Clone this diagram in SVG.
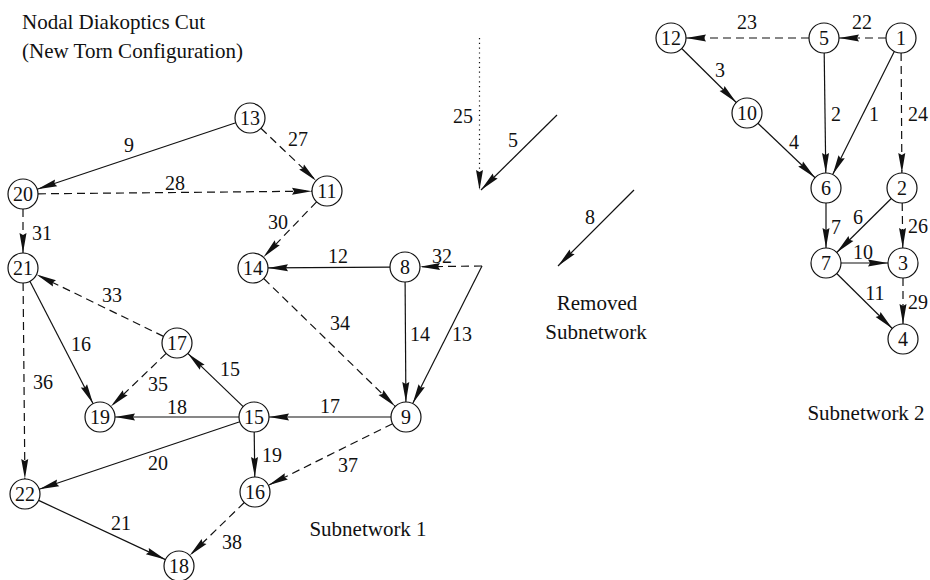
<svg xmlns="http://www.w3.org/2000/svg" width="930" height="580" viewBox="0 0 930 580">
  <style>
    text { font-family: "Liberation Serif", "Times New Roman", serif; font-size: 20px; fill: #111; }
    .word { font-size: 21px; }
    .node circle { fill: #fff; stroke: #111; stroke-width: 1.2; }
    .node text { font-size: 20px; text-anchor: middle; dominant-baseline: central; }
    .lbl { text-anchor: middle; }
    .edge { fill: none; stroke: #111; stroke-width: 1.2; marker-end: url(#arrow); }
    .dash { stroke-dasharray: 8 5; }
    .dot { stroke-dasharray: 1.2 3.6; }
  </style>
  <defs>
    <marker id="arrow" markerUnits="userSpaceOnUse" markerWidth="22" markerHeight="10" refX="20" refY="3.5" orient="auto" overflow="visible">
      <path d="M0,0 L20,3.5 L0,7 L2,3.5 z" fill="#111"/>
    </marker>
  </defs>

  <!-- titles -->
  <text class="word" x="22" y="29">Nodal Diakoptics Cut</text>
  <text class="word" x="22" y="58">(New Torn Configuration)</text>
  <text class="word lbl" x="597" y="310">Removed</text>
  <text class="word lbl" x="596" y="339">Subnetwork</text>
  <text class="word lbl" x="368" y="536">Subnetwork 1</text>
  <text class="word lbl" x="866" y="420">Subnetwork 2</text>

  <!-- connectors -->
  <g id="connectors">
    <line class="edge" x1="235.8" y1="122.8" x2="37.2" y2="189.2"/>
    <line class="edge dash" x1="260.9" y1="128.3" x2="316.1" y2="180.7"/>
    <line class="edge dash" x1="38" y1="193.85" x2="312" y2="191.15"/>
    <line class="edge dash" x1="23" y1="209" x2="23" y2="253"/>
    <line class="edge dash" x1="316.6" y1="201.8" x2="263.4" y2="257.2"/>
    <line class="edge" x1="390" y1="267.1" x2="268" y2="267.9"/>
    <line class="edge dash" x1="163.5" y1="336.4" x2="36.5" y2="274.6"/>
    <line class="edge" x1="29.9" y1="281.3" x2="93.1" y2="403.7"/>
    <line class="edge dash" x1="23.1" y1="283" x2="24.9" y2="479"/>
    <line class="edge dash" x1="166.2" y1="353.4" x2="110.8" y2="406.6"/>
    <line class="edge" x1="243.2" y1="406.6" x2="187.8" y2="353.4"/>
    <line class="edge dash" x1="263.7" y1="278.5" x2="395.3" y2="406.5"/>
    <line class="edge" x1="405.1" y1="282" x2="405.9" y2="402"/>
    <line class="edge" x1="482" y1="266" x2="412.7" y2="403.6"/>
    <line class="edge dash" x1="482" y1="266" x2="420" y2="266.8"/>
    <line class="edge" x1="391" y1="417" x2="269" y2="417"/>
    <line class="edge" x1="239" y1="417" x2="115" y2="417"/>
    <line class="edge" x1="239.8" y1="421.8" x2="39.2" y2="489.2"/>
    <line class="edge" x1="254.2" y1="432" x2="254.8" y2="477"/>
    <line class="edge dash" x1="392.6" y1="423.7" x2="268.4" y2="485.3"/>
    <line class="edge" x1="38.6" y1="500.4" x2="165.4" y2="559.6"/>
    <line class="edge dash" x1="244.3" y1="502.5" x2="189.7" y2="555.5"/>

    <line class="edge dot" x1="479.5" y1="38" x2="479.5" y2="190"/>
    <line class="edge" x1="557" y1="115" x2="481" y2="190"/>
    <line class="edge" x1="634" y1="190" x2="558" y2="266"/>

    <line class="edge dash" x1="809" y1="38" x2="686" y2="38"/>
    <line class="edge dash" x1="886" y1="38" x2="839" y2="38"/>
    <line class="edge" x1="681.7" y1="48.5" x2="736.3" y2="102.5"/>
    <line class="edge" x1="824.2" y1="53" x2="825.8" y2="173"/>
    <line class="edge" x1="894.3" y1="51.4" x2="832.7" y2="174.6"/>
    <line class="edge dash" x1="901.1" y1="53" x2="901.9" y2="173"/>
    <line class="edge" x1="757.9" y1="123.3" x2="815.1" y2="177.7"/>
    <line class="edge" x1="826" y1="203" x2="826" y2="248"/>
    <line class="edge" x1="891.3" y1="198.5" x2="836.7" y2="252.5"/>
    <line class="edge dash" x1="902.2" y1="203" x2="902.8" y2="248"/>
    <line class="edge" x1="841" y1="263" x2="888" y2="263"/>
    <line class="edge" x1="836.7" y1="273.5" x2="892.3" y2="328.5"/>
    <line class="edge dash" x1="903" y1="278" x2="903" y2="324"/>
  </g>

  <!-- connector labels -->
  <g id="edge-labels">
    <text class="lbl" x="129" y="152">9</text>
    <text class="lbl" x="175" y="190">28</text>
    <text class="lbl" x="298" y="146">27</text>
    <text class="lbl" x="42" y="240">31</text>
    <text class="lbl" x="278" y="229">30</text>
    <text class="lbl" x="112" y="302">33</text>
    <text class="lbl" x="81" y="351">16</text>
    <text class="lbl" x="230" y="376">15</text>
    <text class="lbl" x="43" y="389">36</text>
    <text class="lbl" x="158" y="391">35</text>
    <text class="lbl" x="177" y="414">18</text>
    <text class="lbl" x="330" y="413">17</text>
    <text class="lbl" x="272" y="462">19</text>
    <text class="lbl" x="158" y="470">20</text>
    <text class="lbl" x="348" y="472">37</text>
    <text class="lbl" x="121" y="530">21</text>
    <text class="lbl" x="232" y="549">38</text>
    <text class="lbl" x="338" y="263">12</text>
    <text class="lbl" x="442" y="263">32</text>
    <text class="lbl" x="340" y="330">34</text>
    <text class="lbl" x="420" y="341">14</text>
    <text class="lbl" x="462" y="341">13</text>
    <text class="lbl" x="463" y="123">25</text>
    <text class="lbl" x="513" y="147">5</text>
    <text class="lbl" x="590" y="224">8</text>
    <text class="lbl" x="747" y="29">23</text>
    <text class="lbl" x="862" y="29">22</text>
    <text class="lbl" x="720" y="77">3</text>
    <text class="lbl" x="836" y="121">2</text>
    <text class="lbl" x="874" y="121">1</text>
    <text class="lbl" x="918" y="121">24</text>
    <text class="lbl" x="858" y="224">6</text>
    <text class="lbl" x="836" y="234">7</text>
    <text class="lbl" x="794" y="149">4</text>
    <text class="lbl" x="918" y="233">26</text>
    <text class="lbl" x="863" y="259">10</text>
    <text class="lbl" x="875" y="300">11</text>
    <text class="lbl" x="918" y="309">29</text>
  </g>

  <!-- subnetwork 1 nodes -->
  <g id="n13" class="node"><circle cx="250" cy="118" r="15"/><text x="250" y="118">13</text></g>
  <g id="n20" class="node"><circle cx="23" cy="194" r="15"/><text x="23" y="194">20</text></g>
  <g id="n11" class="node"><circle cx="327" cy="191" r="15"/><text x="327" y="191">11</text></g>
  <g id="n21" class="node"><circle cx="23" cy="268" r="15"/><text x="23" y="268">21</text></g>
  <g id="n14" class="node"><circle cx="253" cy="268" r="15"/><text x="253" y="268">14</text></g>
  <g id="n8" class="node"><circle cx="405" cy="267" r="15"/><text x="405" y="267">8</text></g>
  <g id="n17" class="node"><circle cx="177" cy="343" r="15"/><text x="177" y="343">17</text></g>
  <g id="n19" class="node"><circle cx="100" cy="417" r="15"/><text x="100" y="417">19</text></g>
  <g id="n15" class="node"><circle cx="254" cy="417" r="15"/><text x="254" y="417">15</text></g>
  <g id="n9" class="node"><circle cx="406" cy="417" r="15"/><text x="406" y="417">9</text></g>
  <g id="n22" class="node"><circle cx="25" cy="494" r="15"/><text x="25" y="494">22</text></g>
  <g id="n16" class="node"><circle cx="255" cy="492" r="15"/><text x="255" y="492">16</text></g>
  <g id="n18" class="node"><circle cx="179" cy="566" r="15"/><text x="179" y="566">18</text></g>

  <!-- subnetwork 2 nodes -->
  <g id="n12" class="node"><circle cx="671" cy="38" r="15"/><text x="671" y="38">12</text></g>
  <g id="n5" class="node"><circle cx="824" cy="38" r="15"/><text x="824" y="38">5</text></g>
  <g id="n1" class="node"><circle cx="901" cy="38" r="15"/><text x="901" y="38">1</text></g>
  <g id="n10" class="node"><circle cx="747" cy="113" r="15"/><text x="747" y="113">10</text></g>
  <g id="n6" class="node"><circle cx="826" cy="188" r="15"/><text x="826" y="188">6</text></g>
  <g id="n2" class="node"><circle cx="902" cy="188" r="15"/><text x="902" y="188">2</text></g>
  <g id="n7" class="node"><circle cx="826" cy="263" r="15"/><text x="826" y="263">7</text></g>
  <g id="n3" class="node"><circle cx="903" cy="263" r="15"/><text x="903" y="263">3</text></g>
  <g id="n4" class="node"><circle cx="903" cy="339" r="15"/><text x="903" y="339">4</text></g>
</svg>
